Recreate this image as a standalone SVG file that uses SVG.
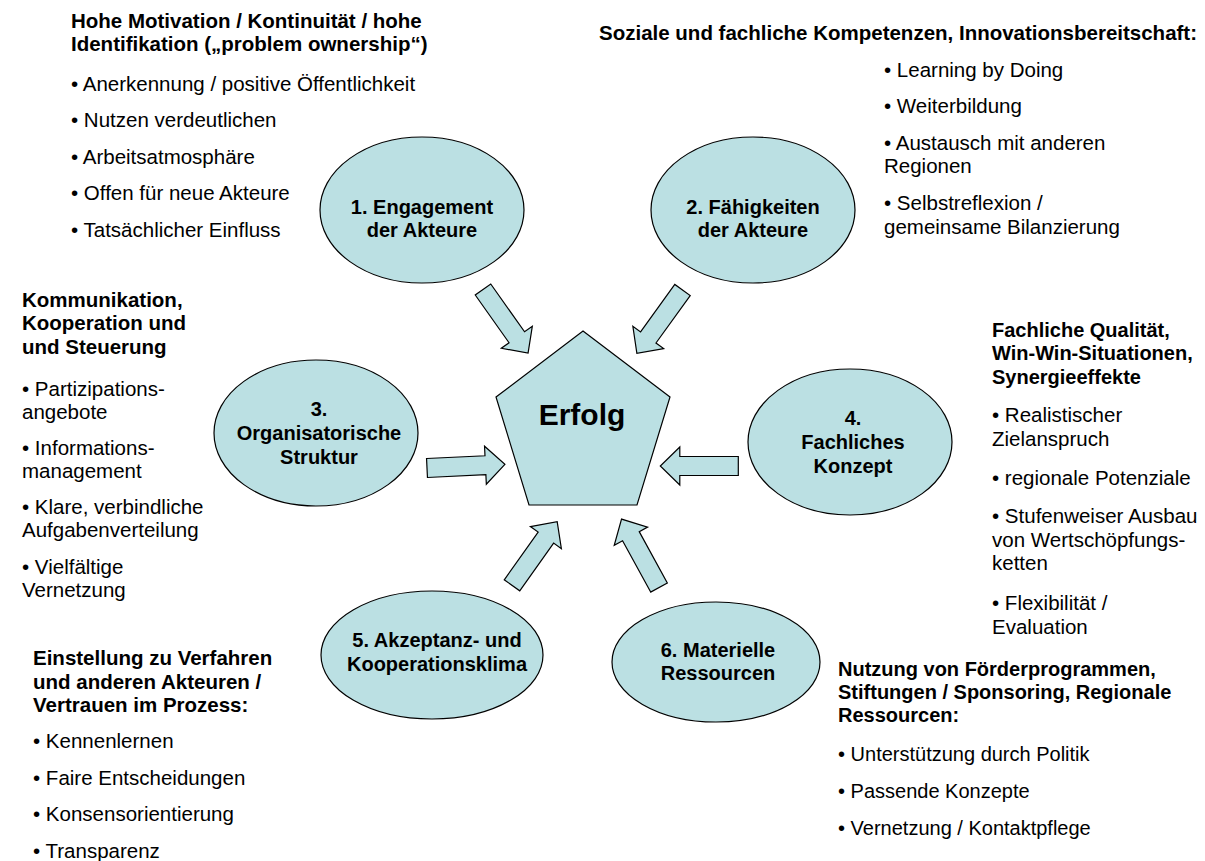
<svg xmlns="http://www.w3.org/2000/svg" width="1205" height="861" viewBox="0 0 1205 861">
<defs>
<style>
.shape{fill:#BBE0E3;stroke:#000;stroke-width:1.2}
.lbl{font-family:"Liberation Sans",Arial,sans-serif;font-size:20px;font-weight:bold;fill:#000;text-anchor:middle}
.h{font-family:"Liberation Sans",Arial,sans-serif;font-size:20.5px;font-weight:bold;fill:#000}
.t{font-family:"Liberation Sans",Arial,sans-serif;font-size:20.5px;fill:#000}
#text6 text,#text4 .h{font-size:20px}
</style>
<path id="arr" d="M0,-9.5 H58.5 V-19 L78,0 L58.5,19 V9.5 H0 Z"/>
</defs>
<rect width="1205" height="861" fill="#fff"/>

<g id="connectors">
<use href="#arr" class="shape" transform="translate(483,289.5) rotate(54.7)"/>
<use href="#arr" class="shape" transform="translate(682.5,290) rotate(125.8)"/>
<use href="#arr" class="shape" transform="translate(427,468) rotate(-2.7)"/>
<use href="#arr" class="shape" transform="translate(738.3,466) rotate(180)"/>
<use href="#arr" class="shape" transform="translate(512,585.3) rotate(-54.6)"/>
<use href="#arr" class="shape" transform="translate(659,587.5) rotate(-118.7)"/>
</g>

<g id="erfolg">
<polygon class="shape" points="583,331 670,397 637,505 529,505 496,397"/>
<text class="lbl" x="582" y="425" style="font-size:30px">Erfolg</text>
</g>

<g id="node1">
<ellipse class="shape" cx="422" cy="210" rx="102" ry="73"/>
<text class="lbl" x="422" y="213.5">1. Engagement</text>
<text class="lbl" x="422" y="237">der Akteure</text>
</g>

<g id="node2">
<ellipse class="shape" cx="753" cy="210" rx="102" ry="73"/>
<text class="lbl" x="753" y="213.5">2. Fähigkeiten</text>
<text class="lbl" x="753" y="237">der Akteure</text>
</g>

<g id="node3">
<ellipse class="shape" cx="316" cy="433" rx="102" ry="73"/>
<text class="lbl" x="319" y="416">3.</text>
<text class="lbl" x="319" y="440">Organisatorische</text>
<text class="lbl" x="319" y="464">Struktur</text>
</g>

<g id="node4">
<ellipse class="shape" cx="850" cy="442" rx="102" ry="73"/>
<text class="lbl" x="853" y="425">4.</text>
<text class="lbl" x="853" y="449">Fachliches</text>
<text class="lbl" x="853" y="473">Konzept</text>
</g>

<g id="node5">
<ellipse class="shape" cx="432" cy="655" rx="111" ry="64"/>
<text class="lbl" x="437" y="647">5. Akzeptanz- und</text>
<text class="lbl" x="437" y="671">Kooperationsklima</text>
</g>

<g id="node6">
<ellipse class="shape" cx="716" cy="662" rx="104" ry="60"/>
<text class="lbl" x="718" y="657">6. Materielle</text>
<text class="lbl" x="718" y="680">Ressourcen</text>
</g>

<g id="text1">
<text class="h" x="71" y="28">Hohe Motivation / Kontinuität / hohe</text>
<text class="h" x="71" y="51">Identifikation („problem ownership“)</text>
<text class="t" x="71" y="91">• Anerkennung / positive Öffentlichkeit</text>
<text class="t" x="71" y="127">• Nutzen verdeutlichen</text>
<text class="t" x="71" y="164">• Arbeitsatmosphäre</text>
<text class="t" x="71" y="200">• Offen für neue Akteure</text>
<text class="t" x="71" y="237">• Tatsächlicher Einfluss</text>
</g>

<g id="text2">
<text class="h" x="599" y="40">Soziale und fachliche Kompetenzen, Innovationsbereitschaft:</text>
<text class="t" x="884" y="77">• Learning by Doing</text>
<text class="t" x="884" y="113">• Weiterbildung</text>
<text class="t" x="884" y="150">• Austausch mit anderen</text>
<text class="t" x="884" y="173">Regionen</text>
<text class="t" x="884" y="210">• Selbstreflexion /</text>
<text class="t" x="884" y="234">gemeinsame Bilanzierung</text>
</g>

<g id="text3">
<text class="h" x="22" y="307">Kommunikation,</text>
<text class="h" x="22" y="330">Kooperation und</text>
<text class="h" x="22" y="354">und Steuerung</text>
<text class="t" x="22" y="396">• Partizipations-</text>
<text class="t" x="22" y="419">angebote</text>
<text class="t" x="22" y="455">• Informations-</text>
<text class="t" x="22" y="478">management</text>
<text class="t" x="22" y="514">• Klare, verbindliche</text>
<text class="t" x="22" y="537">Aufgabenverteilung</text>
<text class="t" x="22" y="574">• Vielfältige</text>
<text class="t" x="22" y="597">Vernetzung</text>
</g>

<g id="text4">
<text class="h" x="992" y="337">Fachliche Qualität,</text>
<text class="h" x="992" y="360">Win-Win-Situationen,</text>
<text class="h" x="992" y="384">Synergieeffekte</text>
<text class="t" x="992" y="422">• Realistischer</text>
<text class="t" x="992" y="446">Zielanspruch</text>
<text class="t" x="992" y="485">• regionale Potenziale</text>
<text class="t" x="992" y="523">• Stufenweiser Ausbau</text>
<text class="t" x="992" y="547">von Wertschöpfungs-</text>
<text class="t" x="992" y="570">ketten</text>
<text class="t" x="992" y="610">• Flexibilität /</text>
<text class="t" x="992" y="634">Evaluation</text>
</g>

<g id="text5">
<text class="h" x="33" y="665">Einstellung zu Verfahren</text>
<text class="h" x="33" y="689">und anderen Akteuren /</text>
<text class="h" x="33" y="712">Vertrauen im Prozess:</text>
<text class="t" x="33" y="748">• Kennenlernen</text>
<text class="t" x="33" y="785">• Faire Entscheidungen</text>
<text class="t" x="33" y="821">• Konsensorientierung</text>
<text class="t" x="33" y="858">• Transparenz</text>
</g>

<g id="text6">
<text class="h" x="838" y="676">Nutzung von Förderprogrammen,</text>
<text class="h" x="838" y="699">Stiftungen / Sponsoring, Regionale</text>
<text class="h" x="838" y="722">Ressourcen:</text>
<text class="t" x="838" y="761">• Unterstützung durch Politik</text>
<text class="t" x="838" y="798">• Passende Konzepte</text>
<text class="t" x="838" y="835">• Vernetzung / Kontaktpflege</text>
</g>
</svg>
